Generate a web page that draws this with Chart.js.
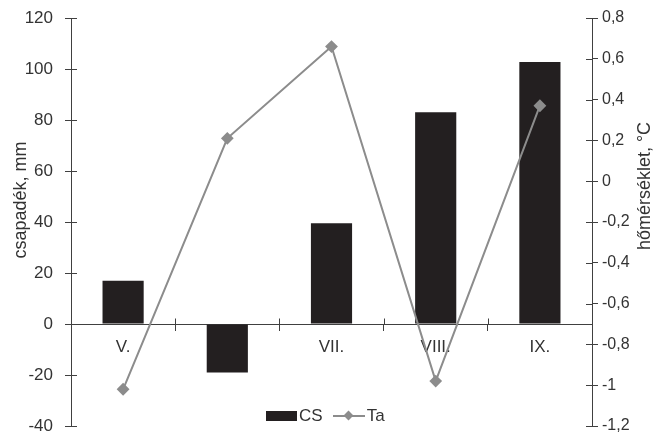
<!DOCTYPE html>
<html>
<head>
<meta charset="utf-8">
<script src="https://cdn.jsdelivr.net/npm/chart.js@4"></script>
<style>
    body { margin: 0; background: #fff; }
    #wrap { position: relative; width: 656px; height: 438px; }
    #legend {
        position: absolute; left: 266px; top: 406px;
        font: 17px "Liberation Sans", Arial, sans-serif; color: #333;
        display: flex; align-items: center;
    }
    .box-cs { display: inline-block; width: 31px; height: 10px; background: #231f20; margin-right: 2px; }
    .line-ta { display: inline-block; position: relative; width: 32px; height: 10px; margin: 0 2px 0 10px; }
    .line-ta::before { content: ""; position: absolute; left: 0; right: 0; top: 4px; height: 2px; background: #8c8c8c; }
    .line-ta::after { content: ""; position: absolute; left: 12px; top: 1px; width: 7px; height: 7px; background: #8c8c8c; transform: rotate(45deg); }
</style>
</head>
<body>
<div id="wrap">
    <canvas id="chart" width="656" height="438"></canvas>
    <div id="legend"><span class="box-cs"></span>CS<span class="line-ta"></span>Ta</div>
</div>
<script>
const honapok = ['V.', 'VI.', 'VII.', 'VIII.', 'IX.'];
const csapadek = [17, -19, 39.5, 83, 102.7];          // CS, mm
const homerseklet = [-1.02, 0.21, 0.66, -0.98, 0.37]; // Ta, °C
const balTickek = ['-40', '-20', '0', '20', '40', '60', '80', '100', '120'];
const jobbTickek = ['-1,2', '-1', '-0,8', '-0,6', '-0,4', '-0,2', '0', '0,2', '0,4', '0,6', '0,8'];

const betu = '"Liberation Sans", Arial, sans-serif';

// tengelycímek + a tengelyen átnyúló kis osztásjelek
const extraRajz = {
    id: 'extraRajz',
    afterDraw(chart) {
        const ctx = chart.ctx;
        const area = chart.chartArea;
        const y = chart.scales.y, y2 = chart.scales.y2, x = chart.scales.x;
        ctx.save();
        ctx.strokeStyle = '#404040';
        ctx.lineWidth = 1;
        ctx.beginPath();
        y.ticks.forEach((t, i) => {
            const py = Math.round(y.getPixelForTick(i)) + 0.5;
            ctx.moveTo(area.left, py); ctx.lineTo(area.left + 6, py);
        });
        y2.ticks.forEach((t, i) => {
            const py = Math.round(y2.getPixelForTick(i)) + 0.5;
            ctx.moveTo(area.right - 6, py); ctx.lineTo(area.right, py);
        });
        const y0 = Math.round(y.getPixelForValue(0)) + 0.5;
        for (let i = 1; i < honapok.length; i++) {
            const px = Math.round((x.getPixelForTick(i - 1) + x.getPixelForTick(i)) / 2) + 0.5;
            ctx.moveTo(px, y0 - 6); ctx.lineTo(px, y0);
        }
        ctx.stroke();

        ctx.fillStyle = '#333';
        ctx.font = '18px ' + betu;
        ctx.textAlign = 'center';
        ctx.textBaseline = 'middle';
        ctx.translate(21, 200);
        ctx.rotate(-Math.PI / 2);
        ctx.fillText('csapadék, mm', 0, 0);
        ctx.restore();

        ctx.save();
        ctx.fillStyle = '#333';
        ctx.font = '18px ' + betu;
        ctx.textAlign = 'center';
        ctx.textBaseline = 'middle';
        ctx.translate(645, 186);
        ctx.rotate(-Math.PI / 2);
        ctx.fillText('hőmérséklet, °C', 0, 0);
        ctx.restore();
    }
};

function tengelyIllesztes(szelesseg) {
    return function (s) {
        s.width = szelesseg;
        s.paddingTop = 0;
        s.paddingBottom = 0;
    };
}

new Chart(document.getElementById('chart').getContext('2d'), {
    data: {
        labels: honapok,
        datasets: [
            {
                type: 'line',
                label: 'Ta',
                data: homerseklet,
                yAxisID: 'y2',
                borderColor: '#8c8c8c',
                backgroundColor: '#8c8c8c',
                borderWidth: 2,
                pointStyle: 'rectRot',
                pointRadius: 5,
                tension: 0,
                order: 0
            },
            {
                type: 'bar',
                label: 'CS',
                data: csapadek,
                yAxisID: 'y',
                backgroundColor: '#231f20',
                barPercentage: 0.395,
                categoryPercentage: 1,
                order: 1
            }
        ]
    },
    options: {
        responsive: false,
        animation: false,
        layout: { padding: { top: 18, bottom: 12, left: 0, right: 0 } },
        plugins: {
            legend: { display: false },
            tooltip: { enabled: false }
        },
        scales: {
            x: {
                position: { y: 0 },
                grid: { display: true, drawOnChartArea: false, offset: true, tickLength: 6, color: '#404040' },
                border: { color: '#404040' },
                ticks: { color: '#333', font: { family: betu, size: 17 }, padding: 7 }
            },
            y: {
                position: 'left',
                min: -40, max: 120,
                afterFit: tengelyIllesztes(71),
                grid: { drawOnChartArea: false, tickLength: 6, color: '#404040' },
                border: { color: '#404040' },
                ticks: {
                    stepSize: 20,
                    color: '#333',
                    font: { family: betu, size: 17 },
                    padding: 12,
                    callback: (v, i) => balTickek[i]
                }
            },
            y2: {
                position: 'right',
                min: -1.2, max: 0.8,
                afterFit: tengelyIllesztes(64),
                grid: { drawOnChartArea: false, tickLength: 6, color: '#404040' },
                border: { color: '#404040' },
                ticks: {
                    stepSize: 0.2,
                    color: '#333',
                    font: { family: betu, size: 16 },
                    padding: 4,
                    callback: (v, i) => jobbTickek[i]
                }
            }
        }
    },
    plugins: [extraRajz]
});
</script>
</body>
</html>
